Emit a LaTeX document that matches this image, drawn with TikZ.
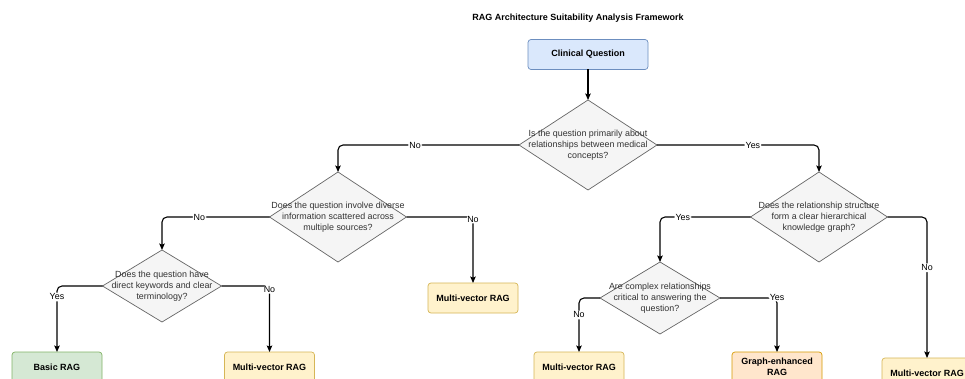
\documentclass[tikz,border=0pt]{standalone}
\usepackage{fontspec}
\setmainfont{Liberation Sans}
\usetikzlibrary{arrows.meta,shapes.geometric}
\definecolor{dfill}{HTML}{F5F5F5}
\definecolor{dline}{HTML}{666666}
\definecolor{dtxt}{HTML}{333333}
\definecolor{bfill}{HTML}{DAE8FC}
\definecolor{bline}{HTML}{6C8EBF}
\definecolor{gfill}{HTML}{D5E8D4}
\definecolor{gline}{HTML}{82B366}
\definecolor{yfill}{HTML}{FFF2CC}
\definecolor{yline}{HTML}{D6B656}
\definecolor{ofill}{HTML}{FFE6CC}
\definecolor{oline}{HTML}{D79B00}
\tikzset{
  dia/.style={diamond, draw=dline, fill=dfill, line width=0.7pt, inner sep=0pt, outer sep=0pt},
  dtext/.style={align=center, text=dtxt, font=\fontsize{8.9}{10.7}\selectfont, inner sep=0pt},
  box/.style={rounded corners=3pt, line width=0.7pt, minimum width=90pt, minimum height=30pt, inner sep=1pt, outer sep=0pt, align=center, font=\bfseries\fontsize{9}{10.5}\selectfont},
  edge/.style={line width=1.1pt, rounded corners=5pt, -{Stealth[length=6.5pt,width=5.5pt,inset=1.2pt]}},
  lbl/.style={fill=white, inner sep=1.2pt, font=\fontsize{8.9}{10}\selectfont}
}
\begin{document}
\begin{tikzpicture}[x=1pt,y=-1pt]
\clip (0,0) rectangle (965,379);
\fill[white] (0,0) rectangle (965,379);
\node[font=\bfseries\fontsize{9}{10}\selectfont] (title) at (578,18) {RAG Architecture Suitability Analysis Framework};

\node[box, draw=bline, fill=bfill, minimum width=120pt] (clin) at (588,54.5) {Clinical Question};

\node[dia, minimum width=138pt, minimum height=90pt] (d1) at (588,145) {};
\node[dtext] (t1) at (d1) {Is the question primarily about\\relationships between medical\\concepts?};
\node[dia, minimum width=137pt, minimum height=90pt] (d2) at (338,217) {};
\node[dtext] (t2) at (d2) {Does the question involve diverse\\information scattered across\\multiple sources?};
\node[dia, minimum width=119pt, minimum height=72pt] (d3) at (162,286) {};
\node[dtext] (t3) at (d3) {Does the question have\\direct keywords and clear\\terminology?};
\node[dia, minimum width=137pt, minimum height=90pt] (d4) at (819,217) {};
\node[dtext] (t4) at (d4) {Does the relationship structure\\form a clear hierarchical\\knowledge graph?};
\node[dia, minimum width=120pt, minimum height=72pt] (d5) at (660,298) {};
\node[dtext] (t5) at (d5) {Are complex relationships\\critical to answering the\\question?};

\node[box, draw=yline, fill=yfill] (mv1) at (473,298) {Multi-vector RAG};
\node[box, draw=gline, fill=gfill] (basic) at (57,367) {Basic RAG};
\node[box, draw=yline, fill=yfill] (mv2) at (269.5,367) {Multi-vector RAG};
\node[box, draw=yline, fill=yfill] (mv3) at (579,367) {Multi-vector RAG};
\node[box, draw=oline, fill=ofill] (graph) at (777,367) {Graph-enhanced\\RAG};
\node[box, draw=yline, fill=yfill] (mv4) at (927,373) {Multi-vector RAG};

\draw[edge] (clin.south) -- (d1.north);
\draw[edge] (d1.west) -| node[lbl, pos=0.287] {No} (d2.north);
\draw[edge] (d1.east) -| node[lbl, pos=0.296] {Yes} (d4.north);
\draw[edge] (d2.west) -| node[lbl, pos=0.326] {No} (d3.north);
\draw[edge] (d2.east) -| node[lbl, pos=0.5, yshift=-2pt] {No} (mv1.north);
\draw[edge] (d3.west) -| node[lbl, pos=0.583] {Yes} (basic.north);
\draw[edge] (d3.east) -| node[lbl, pos=0.54, yshift=2pt] {No} (mv2.north);
\draw[edge] (d4.west) -| node[lbl, pos=0.374] {Yes} (d5.north);
\draw[edge] (d4.east) -| node[lbl, pos=0.68] {No} (mv4.north);
\draw[edge] (d5.west) -| node[lbl, pos=0.657] {No} (mv3.north);
\draw[edge] (d5.east) -| node[lbl, pos=0.52, yshift=3pt] {Yes} (graph.north);
\end{tikzpicture}
\end{document}
